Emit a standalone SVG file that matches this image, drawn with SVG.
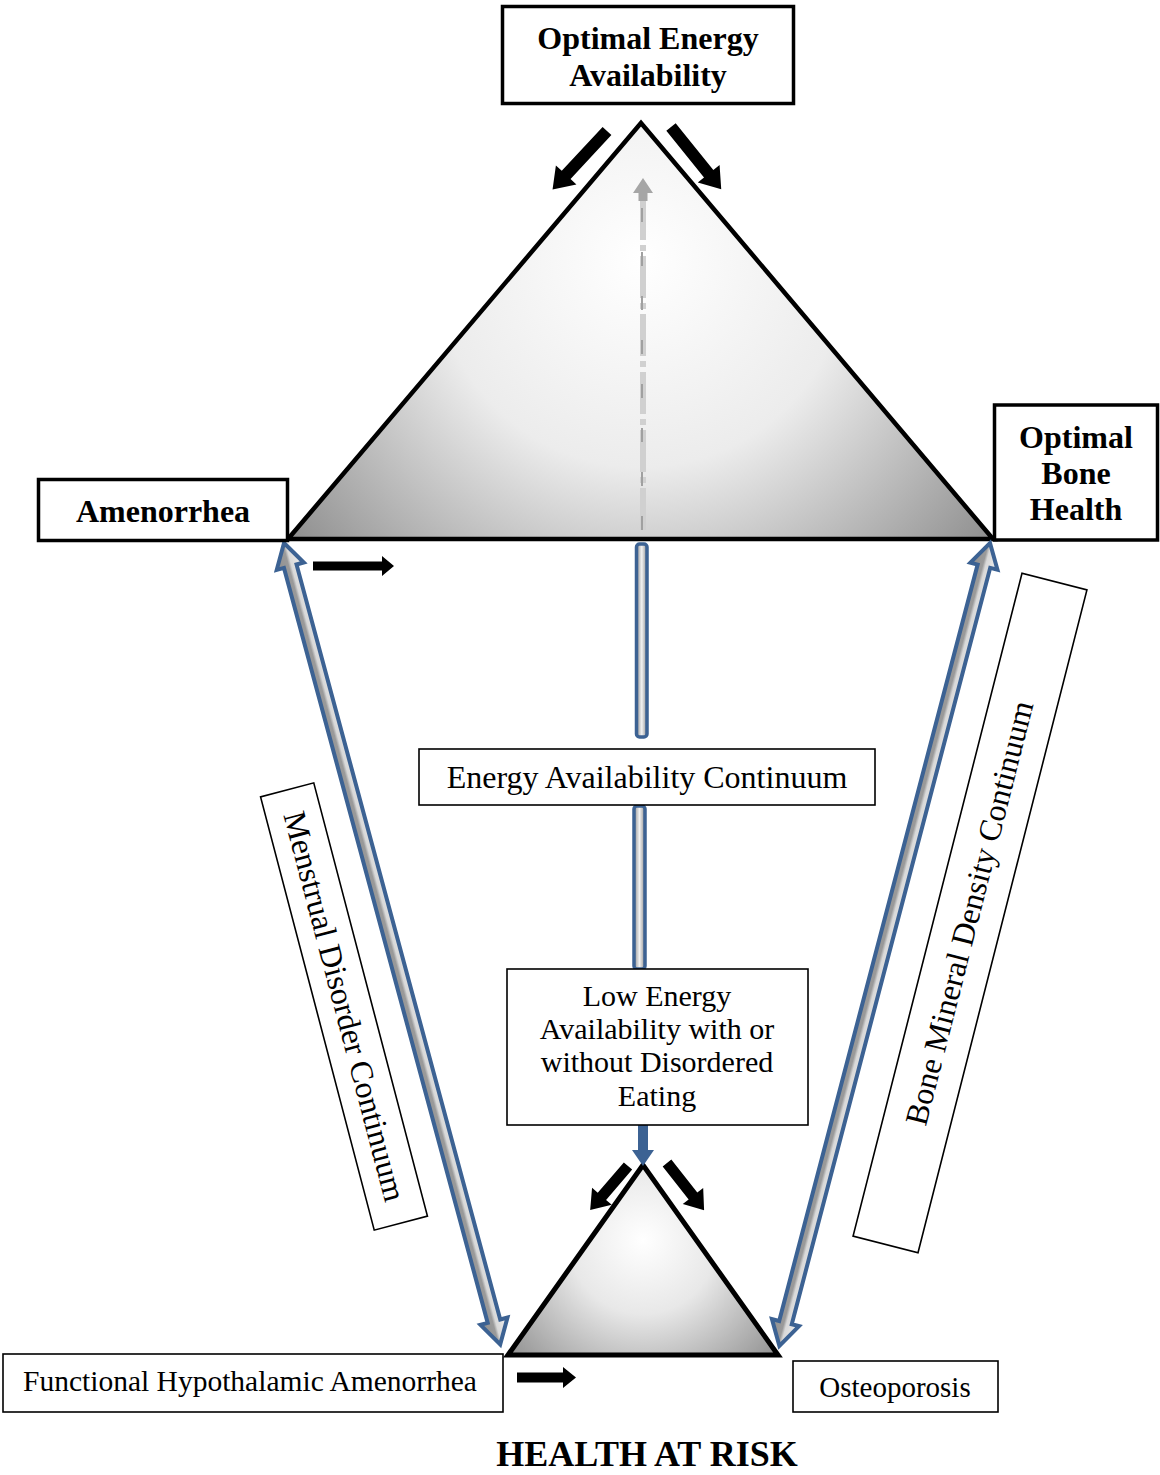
<svg xmlns="http://www.w3.org/2000/svg" width="1160" height="1475" viewBox="0 0 1160 1475">
<style>
.bold{font-family:"Liberation Serif","Times New Roman",serif;font-weight:bold;font-size:32px;fill:#000;text-anchor:middle}
.reg{font-family:"Liberation Serif","Times New Roman",serif;font-size:32px;fill:#000;text-anchor:middle}
.thick{fill:#fff;stroke:#000;stroke-width:3.5}
.thin{fill:#fff;stroke:#000;stroke-width:1.6}
.blk{fill:#000}
.blu{fill:url(#gBar);stroke:#3C6293;stroke-width:3.5;stroke-linejoin:round}
</style>
<defs>
<radialGradient id="gBig" gradientUnits="userSpaceOnUse" cx="641" cy="260" r="460">
<stop offset="0" stop-color="#ffffff"/>
<stop offset="0.45" stop-color="#ececec"/>
<stop offset="1" stop-color="#8a8a8a"/>
</radialGradient>
<radialGradient id="gSmall" gradientUnits="userSpaceOnUse" cx="643" cy="1240" r="185">
<stop offset="0" stop-color="#ffffff"/>
<stop offset="0.4" stop-color="#e8e8e8"/>
<stop offset="1" stop-color="#8a8a8a"/>
</radialGradient>
<linearGradient id="gBar" x1="0" y1="0" x2="1" y2="0">
<stop offset="0" stop-color="#8f8f8f"/>
<stop offset="0.5" stop-color="#f2f2f2"/>
<stop offset="1" stop-color="#8f8f8f"/>
</linearGradient>
<linearGradient id="gDbl" x1="0" y1="0" x2="0" y2="1">
<stop offset="0" stop-color="#f0f0f0"/>
<stop offset="0.45" stop-color="#d8d8d8"/>
<stop offset="0.55" stop-color="#9a9a9a"/>
<stop offset="1" stop-color="#909090"/>
</linearGradient>
</defs>

<g id="triangle-top">
<polygon points="641,123 288,539 993,539" fill="url(#gBig)" stroke="#000" stroke-width="4.5" stroke-linejoin="miter"/>
</g>
<g id="triangle-bottom">
<polygon points="643,1165 508,1355 778,1355" fill="url(#gSmall)" stroke="#000" stroke-width="5" stroke-linejoin="miter"/>
</g>

<g id="connectors">
<!-- center dashed gray arrow -->
<line x1="643" y1="530" x2="643" y2="192" stroke="#d0d0d0" stroke-width="6" stroke-dasharray="42,5,6,5"/>
<line x1="642" y1="530" x2="642" y2="192" stroke="#a0a0a0" stroke-width="2" stroke-dasharray="14,30"/>
<polygon points="643,178 633,193 638.5,193 638.5,201 647.5,201 647.5,193 653,193" fill="#a6a6a6"/>

<!-- top black arrows -->
<path class="blk" d="M0,-6 L60,-6 L60,-14 L80,0 L60,14 L60,6 L0,6 Z" transform="translate(607,131) rotate(132.9)"/>
<path class="blk" d="M0,-6 L60,-6 L60,-14 L80,0 L60,14 L60,6 L0,6 Z" transform="translate(671,127) rotate(51.1)"/>
<!-- small triangle black arrows -->
<path class="blk" d="M0,-5.5 L40,-5.5 L40,-13 L58,0 L40,13 L40,5.5 L0,5.5 Z" transform="translate(628,1166) rotate(130.7)"/>
<path class="blk" d="M0,-5.5 L42,-5.5 L42,-13 L60,0 L42,13 L42,5.5 L0,5.5 Z" transform="translate(667,1163) rotate(51.8)"/>
<!-- horizontal arrows -->
<path class="blk" d="M313,561.5 L382,561.5 L382,556 L394,566 L382,576 L382,570.5 L313,570.5 Z"/>
<path class="blk" d="M517,1372.5 L563,1372.5 L563,1367 L576,1377.5 L563,1388 L563,1382.5 L517,1382.5 Z"/>

<!-- blue double arrows -->
<path d="M0,0 L24,-14 L24,-6.5 L806,-6.5 L806,-14 L830,0 L806,14 L806,6.5 L24,6.5 L24,14 Z" fill="url(#gDbl)" stroke="#3C6293" stroke-width="4" stroke-linejoin="miter" transform="translate(284,543) rotate(74.9)"/>
<path d="M0,0 L24,-14 L24,-6.5 L806,-6.5 L806,-14 L830,0 L806,14 L806,6.5 L24,6.5 L24,14 Z" fill="url(#gDbl)" stroke="#3C6293" stroke-width="4" stroke-linejoin="miter" transform="translate(990,543) rotate(104.7)"/>

<!-- vertical blue connectors -->
<rect class="blu" x="636.5" y="544" width="10.5" height="193" rx="3"/>
<rect class="blu" x="634" y="806" width="11" height="163" rx="3"/>
<polygon points="638,1125 648,1125 648,1150 654,1150 643,1166 632,1150 638,1150" fill="#3C6293"/>
</g>

<g id="node-optimal-energy">
<rect class="thick" x="502.5" y="6.5" width="291" height="97"/>
<text class="bold" x="648" y="49">Optimal Energy</text>
<text class="bold" x="648" y="86">Availability</text>
</g>
<g id="node-amenorrhea">
<rect class="thick" x="38.5" y="479.5" width="249" height="61"/>
<text class="bold" x="163" y="522">Amenorrhea</text>
</g>
<g id="node-bone-health">
<rect class="thick" x="994.5" y="405" width="163" height="135"/>
<text class="bold" x="1076" y="448">Optimal</text>
<text class="bold" x="1076" y="484">Bone</text>
<text class="bold" x="1076" y="520">Health</text>
</g>
<g id="node-ea-continuum">
<rect class="thin" x="419" y="749" width="456" height="56"/>
<text class="reg" x="647" y="788">Energy Availability Continuum</text>
</g>
<g id="node-low-ea">
<rect class="thin" x="507" y="969" width="301" height="156"/>
<text class="reg" x="657" y="1006" style="font-size:30px">Low Energy</text>
<text class="reg" x="657" y="1039" style="font-size:30px">Availability with or</text>
<text class="reg" x="657" y="1072" style="font-size:30px">without Disordered</text>
<text class="reg" x="657" y="1106" style="font-size:30px">Eating</text>
</g>
<g id="node-menstrual">
<g transform="translate(344,1006.5) rotate(75.3)">
<rect class="thin" x="-224" y="-27.5" width="448" height="55"/>
<text class="reg" x="0" y="10">Menstrual Disorder Continuum</text>
</g>
</g>
<g id="node-bmd">
<g transform="translate(970,913) rotate(-75.7)">
<rect class="thin" x="-342" y="-33.5" width="684" height="67"/>
<text class="reg" x="0" y="10">Bone Mineral Density Continuum</text>
</g>
</g>
<g id="node-fha">
<rect class="thin" x="3" y="1354" width="500" height="58"/>
<text class="reg" x="250" y="1391" style="font-size:29.5px">Functional Hypothalamic Amenorrhea</text>
</g>
<g id="node-osteoporosis">
<rect class="thin" x="793" y="1361" width="205" height="51"/>
<text class="reg" x="895" y="1397" style="font-size:29px">Osteoporosis</text>
</g>
<g id="title">
<text class="bold" x="647" y="1466" style="font-size:36px">HEALTH AT RISK</text>
</g>
</svg>
